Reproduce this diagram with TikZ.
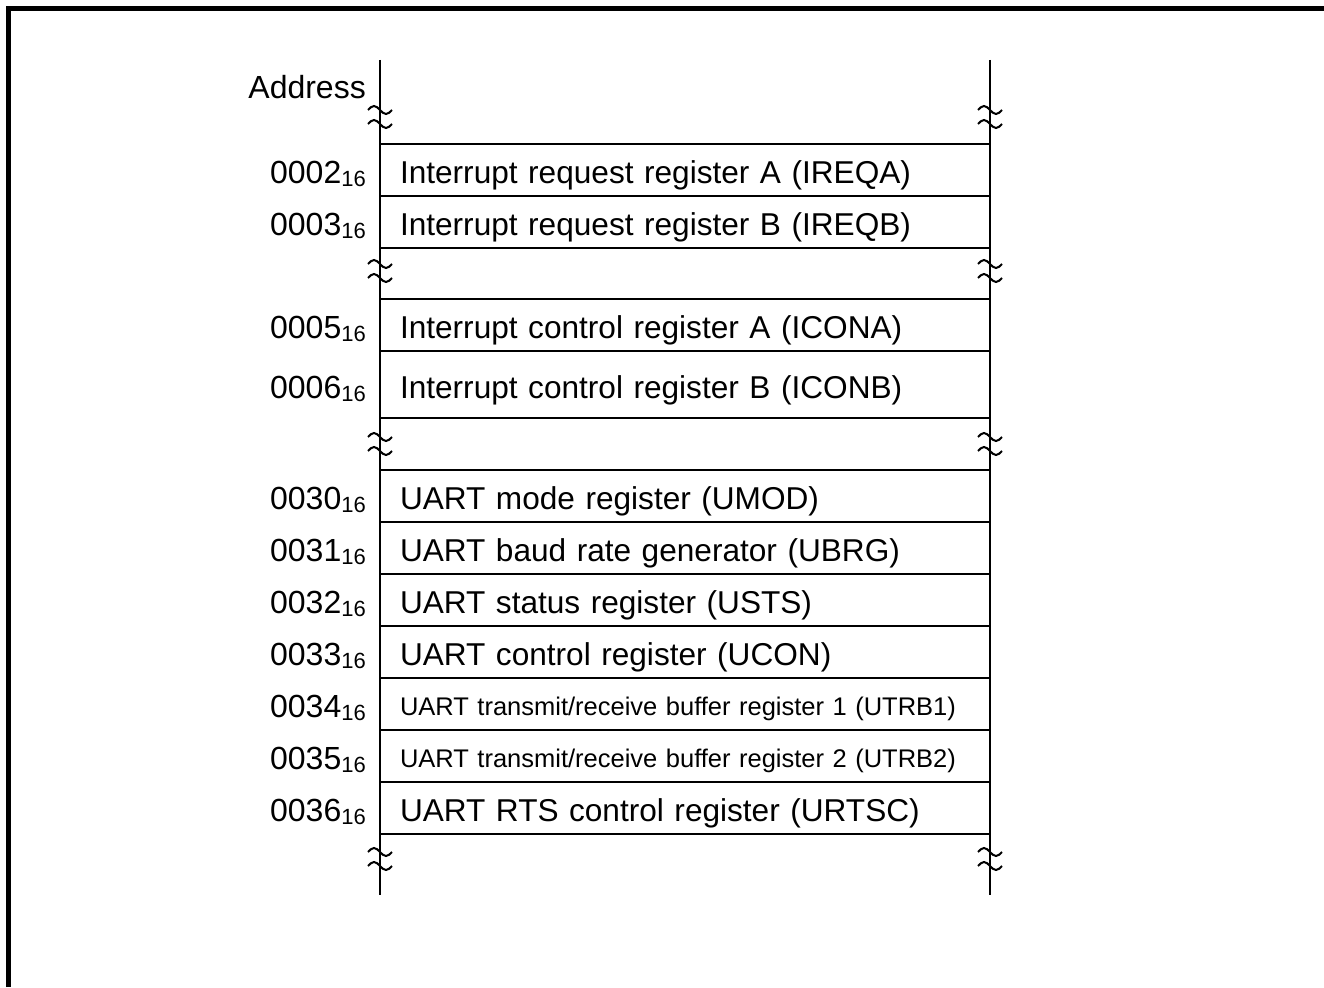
\documentclass[tikz,border=0pt]{standalone}
\usepackage{fontspec}
\setmainfont{Liberation Sans}
\usetikzlibrary{positioning}
\newcommand{\hexaddr}[1]{#1{\fontsize{22}{22}\selectfont\raisebox{-3pt}{16}}}

\begin{document}
\begin{tikzpicture}[x=1pt, y=-1pt,
				reg/.style={draw, line width=2pt, outer sep=0pt,
					minimum width=610pt, minimum height=52pt,
					text width=570pt, inner xsep=20pt, inner ysep=0pt,
					text height=27pt, text depth=0pt,
					align=left, font=\fontsize{31.6}{38}\selectfont},
				smallreg/.style={reg, text height=22.4pt, font=\fontsize{25.5}{30}\selectfont},
				addr/.style={inner sep=0pt, text height=27pt, text depth=0pt,
					font=\fontsize{32}{38}\selectfont},
				axis/.style={line width=2.4pt},
				frame/.style={line width=5pt},
				brk/.pic={
					\draw[line width=2pt] (-12,-7) sin (-6,-11) cos (0,-7) sin (6,-3) cos (12,-7);
					\draw[line width=2pt] (-12,7) sin (-6,3) cos (0,7) sin (6,11) cos (12,7);
				}
				]
				\useasboundingbox (0,0) rectangle (1324,987);
				\draw[frame] (8.5,987) -- (8.5,8.5) -- (1324,8.5);
				\node[addr, anchor=east] (head) at (366,85) {Address};
				\node[reg, anchor=north west] (ireqa) at (380,144) {Interrupt request register A (IREQA)};
				\node[reg, below=0pt of ireqa] (ireqb) {Interrupt request register B (IREQB)};
				\node[reg, below=51pt of ireqb] (icona) {Interrupt control register A (ICONA)};
				\node[reg, below=0pt of icona, minimum height=67pt] (iconb) {Interrupt control register B (ICONB)};
				\node[reg, below=52pt of iconb] (umod) {UART mode register (UMOD)};
				\node[reg, below=0pt of umod] (ubrg) {UART baud rate generator (UBRG)};
				\node[reg, below=0pt of ubrg] (usts) {UART status register (USTS)};
				\node[reg, below=0pt of usts] (ucon) {UART control register (UCON)};
				\node[smallreg, below=0pt of ucon] (utrba) {UART transmit/receive buffer register 1 (UTRB1)};
				\node[smallreg, below=0pt of utrba] (utrbb) {UART transmit/receive buffer register 2 (UTRB2)};
				\node[reg, below=0pt of utrbb] (urtsc) {UART RTS control register (URTSC)};
				\node[addr, left=14pt of ireqa.west] (a02) {\hexaddr{0002}};
				\node[addr, left=14pt of ireqb.west] (a03) {\hexaddr{0003}};
				\node[addr, left=14pt of icona.west] (a05) {\hexaddr{0005}};
				\node[addr, left=14pt of iconb.west] (a06) {\hexaddr{0006}};
				\node[addr, left=14pt of umod.west] (a30) {\hexaddr{0030}};
				\node[addr, left=14pt of ubrg.west] (a31) {\hexaddr{0031}};
				\node[addr, left=14pt of usts.west] (a32) {\hexaddr{0032}};
				\node[addr, left=14pt of ucon.west] (a33) {\hexaddr{0033}};
				\node[addr, left=14pt of utrba.west] (a34) {\hexaddr{0034}};
				\node[addr, left=14pt of utrbb.west] (a35) {\hexaddr{0035}};
				\node[addr, left=14pt of urtsc.west] (a36) {\hexaddr{0036}};
				\coordinate (ltop) at (380,60);
				\coordinate (lbot) at (380,895);
				\coordinate (rtop) at (990,60);
				\coordinate (rbot) at (990,895);
				\draw[axis] (ltop) -- (lbot);
				\draw[axis] (rtop) -- (rbot);
				\foreach \yb in {117,271,444,859} {
					\pic at (380,\yb) {brk};
					\pic at (990,\yb) {brk};
				}
			\end{tikzpicture}
\end{document}
